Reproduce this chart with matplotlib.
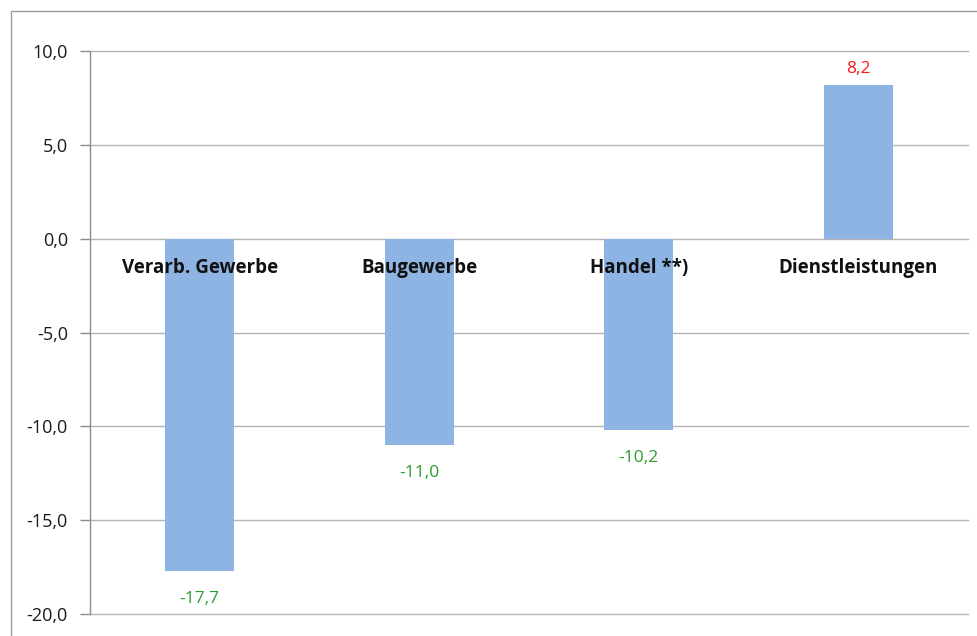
import matplotlib
matplotlib.use("Agg")
import matplotlib.pyplot as plt
from matplotlib.patches import Rectangle

categories = ["Verarb. Gewerbe", "Baugewerbe", "Handel **)", "Dienstleistungen"]
values = [-17.7, -11.0, -10.2, 8.2]
yticks = [10, 5, 0, -5, -10, -15, -20]
ytick_labels = ["10,0", "5,0", "0,0", "-5,0", "-10,0", "-15,0", "-20,0"]

plt.rcParams['font.family'] = ['Open Sans', 'DejaVu Sans']

W, H = 978, 636
fig = plt.figure(figsize=(W / 100, H / 100), dpi=100)
fig.patch.set_facecolor("white")

# outer border
fig.add_artist(Rectangle((11 / W, -0.1), 1.2, 1 - 11 / H + 0.1, transform=fig.transFigure,
                         fill=False, edgecolor="#9a9a9a", linewidth=1.0))

left, right, top, bottom = 90, 968, 51, 614
ax = fig.add_axes([left / W, 1 - bottom / H, (right - left) / W, (bottom - top) / H])

x = list(range(len(categories)))
ax.bar(x, values, width=0.315, color="#8eb4e3", zorder=2)
ax.set_xlim(-0.5, len(categories) - 0.5)
ax.set_ylim(-20, 10)

ax.set_yticks(yticks)
ax.set_yticklabels(ytick_labels, fontsize=13, color="#1a1a1a")
ax.set_xticks([])
for yv in yticks:
    ax.axhline(yv, color="#b4b4b4", linewidth=1.0, zorder=1, clip_on=False)

for s in ["top", "right", "bottom"]:
    ax.spines[s].set_visible(False)
ax.spines["left"].set_color("#8c8c8c")
ax.spines["left"].set_linewidth(1.0)
ax.tick_params(axis="y", length=7, width=1.0, color="#8c8c8c", pad=9)

# category labels under zero line
for xi, c in zip(x, categories):
    ax.text(xi, -1.55, c, ha="center", va="center", fontsize=13.5, fontweight="bold",
            color="#111111", zorder=4)

# value labels
for xi, v in zip(x, values):
    lbl = f"{v:.1f}".replace(".", ",")
    if v < 0:
        ax.text(xi, v - 1.5, lbl, ha="center", va="center", fontsize=12.5,
                color="#2e9b2e", zorder=4)
    else:
        ax.text(xi, v + 0.85, lbl, ha="center", va="center", fontsize=12.5,
                color="#ff1a1a", zorder=4,
                bbox=dict(facecolor="white", edgecolor="none", pad=3))

fig.savefig("out.png", dpi=100)
